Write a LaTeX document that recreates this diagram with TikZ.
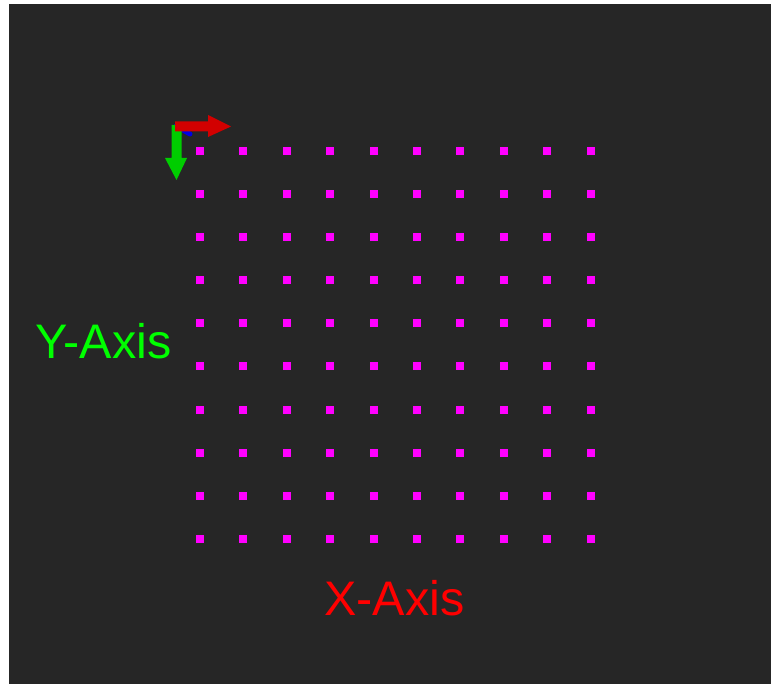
\documentclass[tikz,border=0pt]{standalone}
\usepackage{fontspec}
\setmainfont{Liberation Sans}
\definecolor{bgdark}{RGB}{38,38,38}
\definecolor{ptmag}{RGB}{255,0,255}
\definecolor{axred}{RGB}{210,0,0}
\definecolor{axgreen}{RGB}{0,205,0}
\definecolor{axblue}{RGB}{0,0,230}
\definecolor{lblred}{RGB}{255,0,0}
\definecolor{lblgreen}{RGB}{0,255,0}
\begin{document}
\begin{tikzpicture}[x=1pt,y=-1pt]
	% styles
	\tikzstyle{gridpt} = [fill=ptmag,draw=none]
	\tikzstyle{axlabel} = [font=\fontsize{48.5}{52}\selectfont,inner sep=0pt]
	
	% bounding box
	\useasboundingbox (0,0) rectangle (771,684);
	\fill[white] (0,0) rectangle (771,684);
	\fill[bgdark] (9,4) rectangle (771,684);
	
	% grid points
	\foreach \i in {0,...,9}
	\foreach \j in {0,...,9}
	{
		\path[gridpt] (200+43.4*\i-4,151+43.1*\j-4) rectangle ++(8,8);
	}
	
	% frame at origin
	\coordinate (origin) at (176,126);
	\draw[axblue,line width=5pt,line cap=round] (origin) -- (190,134);
	\fill[axgreen] (171.5,125) rectangle (181.5,158)
		(165,158) -- (187,158) -- (176.5,180) -- cycle;
	\fill[axred] (175,121.5) rectangle (208,131.5)
		(208,115) -- (208,137) -- (231,126.5) -- cycle;
	
	% labels
	\node[axlabel,text=lblgreen] (ylabel) at (103.5,341) {Y-Axis};
	\node[axlabel,text=lblred] (xlabel) at (394.5,598) {X-Axis};
\end{tikzpicture}
\end{document}
